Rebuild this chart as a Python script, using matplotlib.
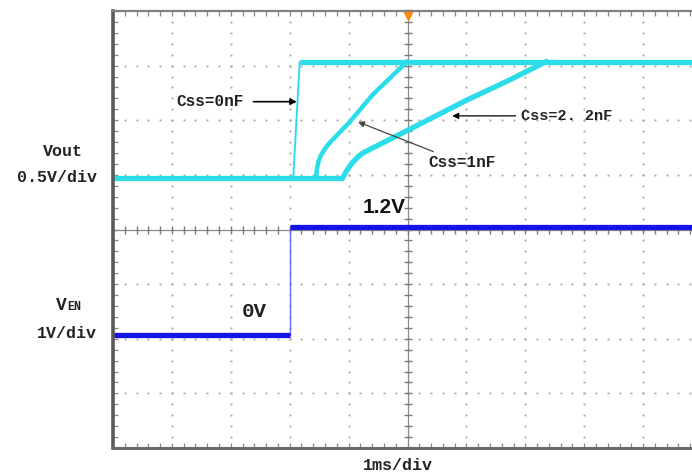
import numpy as np
import matplotlib
matplotlib.use('Agg')
import matplotlib.pyplot as plt

# screen units: x in ms from left edge (1 ms/div), y in divisions (0 = bottom)
X_MAX = 9.83
Y_MAX = 8

# VEN trace
en_t = [0.0, 3.0, 3.0, X_MAX]
en_v = [2.07, 2.07, 4.05, 4.05]

# Vout traces
base_t = [0.0, 3.90]
base_v = [4.95, 4.95]
top_t = [3.17, X_MAX]
top_v = [7.07, 7.07]
css0_t = [3.06, 3.17]
css0_v = [4.95, 7.07]
css1_t = [3.45, 3.46, 3.49, 3.53, 3.60, 3.68, 4.02, 4.41, 4.99]
css1_v = [4.95, 5.10, 5.25, 5.36, 5.48, 5.59, 5.97, 6.47, 7.07]
css22_t = [3.90, 3.97, 4.06, 4.16, 4.24, 5.01, 5.99, 6.70, 7.35]
css22_v = [4.95, 5.08, 5.22, 5.33, 5.40, 5.82, 6.36, 6.72, 7.07]

CYAN = '#2adde8'
BLUE = '#1414e6'
GRID = '#a0a0a0'

fig = plt.figure(figsize=(6.92, 4.76), dpi=100)
ax = fig.add_axes([113 / 692, 28 / 476, 579 / 692, 437 / 476])
ax.set_xlim(0, X_MAX)
ax.set_ylim(0, Y_MAX)

# frame
ax.spines['right'].set_visible(False)
ax.spines['left'].set_linewidth(2.6)
ax.spines['left'].set_color('#5a5a5a')
ax.spines['top'].set_linewidth(1.6)
ax.spines['top'].set_color('#808080')
ax.spines['bottom'].set_linewidth(2.2)
ax.spines['bottom'].set_color('#6a6a6a')

ax.set_xticks([])
ax.set_yticks([])
ax.set_xticks(np.arange(0, X_MAX, 0.2), minor=True)
ax.set_yticks(np.arange(0, Y_MAX + 0.01, 0.2), minor=True)
ax.tick_params(which='minor', direction='in', length=3.5, width=0.9, color='#888888',
               top=True, bottom=True, left=True, right=False,
               labelbottom=False, labelleft=False)

# dotted graticule
yy = np.arange(0.2, Y_MAX, 0.2)
xx = np.arange(0.2, X_MAX, 0.2)
for gx in range(1, 10):
    if gx == 5:
        continue
    ax.plot([gx] * len(yy), yy, ls='none', marker='s', ms=1.3, mew=0, color=GRID)
for gy in range(1, 8):
    if gy == 4:
        continue
    ax.plot(xx, [gy] * len(xx), ls='none', marker='s', ms=1.3, mew=0, color=GRID)

# centre cross with ticks
ax.plot([5, 5], [0, Y_MAX], lw=0.9, color='#8a8a8a')
ax.plot([5] * len(yy), yy, ls='none', marker='_', ms=6, mew=1, color='#7a7a7a')
ax.plot([0, X_MAX], [4, 4], lw=0.9, color='#8a8a8a')
ax.plot(xx, [4] * len(xx), ls='none', marker='|', ms=6, mew=1, color='#7a7a7a')

# traces
ax.plot(en_t[1:3], en_v[1:3], lw=1, color='#6a6aff')
ax.plot(en_t[:2], en_v[:2], lw=3.8, color=BLUE, solid_capstyle='butt')
ax.plot(en_t[2:], en_v[2:], lw=3.8, color=BLUE, solid_capstyle='butt')

ax.plot(css0_t, css0_v, lw=1.4, color=CYAN)
ax.plot(base_t, base_v, lw=3.8, color=CYAN, solid_capstyle='butt')
ax.plot(top_t, top_v, lw=3.8, color=CYAN, solid_capstyle='butt')
ax.plot(css1_t, css1_v, lw=3.2, color=CYAN, solid_joinstyle='round')
ax.plot(css22_t, css22_v, lw=3.8, color=CYAN, solid_joinstyle='round')

# trigger marker
ax.plot(5, 7.93, marker='v', ms=7, color='#ff8a10', clip_on=False)

mono = dict(family='Liberation Mono', weight='bold', color='#222222')

# annotations
ax.annotate('Css=0nF', xy=(3.12, 6.34), xytext=(2.22, 6.34),
            ha='right', va='center', fontsize=11.5, **mono,
            arrowprops=dict(arrowstyle='-|>', color='black', lw=1.2,
                            mutation_scale=9, shrinkA=5, shrinkB=0))
ax.annotate('Css=2. 2nF', xy=(5.76, 6.08), xytext=(6.93, 6.08),
            ha='left', va='center', fontsize=11, **mono,
            arrowprops=dict(arrowstyle='-|>', color='black', lw=0.9,
                            mutation_scale=9, shrinkA=2, shrinkB=0))
ax.annotate('Css=1nF', xy=(4.16, 5.97), xytext=(5.35, 5.22),
            ha='left', va='center', fontsize=11.5, **mono,
            arrowprops=dict(arrowstyle='-|>', color='#444444', lw=0.9,
                            mutation_scale=9, shrinkA=2, shrinkB=0))

ax.text(4.23, 4.40, '1.2V', ha='left', va='center', fontsize=15,
        family='Liberation Sans', weight='bold', color='#111111')
ax.text(2.19, 2.49, '0V', ha='left', va='center', fontsize=15, **mono)


# left / bottom labels in figure pixels
def fx(px):
    return px / 692


def fy(py):
    return 1 - py / 476


fig.text(fx(63), fy(152), 'Vout', ha='center', va='center', fontsize=12, **mono)
fig.text(fx(97), fy(178), '0.5V/div', ha='right', va='center', fontsize=12, **mono)
fig.text(fx(67), fy(306), 'V', ha='right', va='center', fontsize=13, **mono)
fig.text(fx(67), fy(307), 'EN', ha='left', va='center', fontsize=8.5, **mono)
fig.text(fx(97), fy(333), '1V/div', ha='right', va='center', fontsize=12, **mono)
fig.text(fx(398), fy(466), '1ms/div', ha='center', va='center', fontsize=12, **mono)

fig.savefig('out.png', dpi=100)
